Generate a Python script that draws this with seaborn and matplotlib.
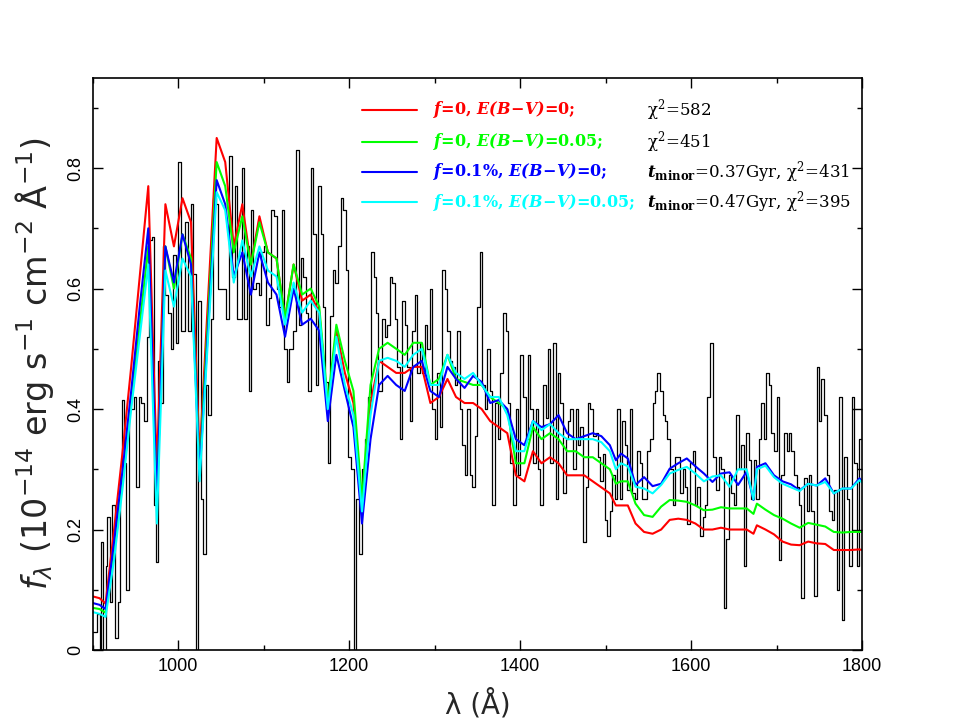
import numpy as np
import pandas as pd
import matplotlib
matplotlib.use("Agg")
import matplotlib.pyplot as plt
from matplotlib.ticker import MultipleLocator
import seaborn as sns

# observed spectrum: bin left edges (A) and flux levels
obs_wave = [900, 905, 908, 910, 912, 915, 917, 920, 923, 926, 929, 932, 934.5, 937, 939.5, 942, 948.5,
            951, 954, 957, 960, 963, 965.5, 969, 972, 973.5, 976.5, 979.5, 982.5, 985, 988, 991, 994, 997,
            1000, 1003, 1006, 1008.5, 1011.5, 1015, 1017.5, 1020.5, 1023.5, 1026.5, 1029.3, 1032, 1035, 1038,
            1041, 1044, 1047, 1050, 1053, 1056, 1059.5, 1063, 1066, 1069, 1072, 1074.5, 1077, 1080, 1082.5,
            1085, 1088, 1091, 1094, 1097, 1100, 1103, 1106, 1109, 1112, 1115, 1118, 1121, 1124, 1127, 1130,
            1134, 1138, 1141, 1143.5, 1146, 1149, 1152, 1155, 1158, 1161, 1163.5, 1166.5, 1169, 1172, 1175,
            1178, 1181, 1184, 1187, 1190, 1193, 1196, 1199, 1202, 1205.5, 1207.5, 1211, 1214.5, 1218, 1222,
            1226, 1229, 1231, 1234, 1238.8, 1241.5, 1244.2, 1247.4, 1250.5, 1253.2, 1256, 1259, 1262.2, 1265,
            1267.6, 1270.8, 1273.5, 1276.6, 1279.3, 1282.5, 1285.2, 1288.3, 1291, 1294.2, 1297.3, 1300, 1302.7,
            1305.8, 1309, 1311.7, 1314.4, 1317.5, 1320.7, 1323.4, 1326.1, 1329.2, 1332.4, 1335.1, 1337.8, 1341,
            1344, 1346.8, 1349.5, 1352.6, 1355.8, 1358.5, 1361.2, 1364.3, 1367.4, 1370.6, 1374.1, 1376.8, 1380,
            1383, 1385.8, 1388.5, 1391.6, 1394.7, 1397.5, 1400.2, 1403.3, 1406.4, 1409.2, 1412, 1415, 1418,
            1421, 1423.6, 1426.7, 1429.8, 1432.6, 1435.3, 1438.4, 1441.5, 1444.2, 1447, 1450, 1453.2, 1456,
            1458.7, 1461.8, 1465, 1467.6, 1470.4, 1473.5, 1476.6, 1479.3, 1482, 1485.2, 1488.3, 1491, 1493.8,
            1497, 1498.8, 1501.6, 1504.7, 1507.8, 1510.6, 1513.3, 1516.5, 1519.6, 1522.4, 1525.1, 1528.2, 1531,
            1534.1, 1537, 1540, 1543, 1546, 1548.6, 1551.8, 1555, 1557.6, 1560.4, 1563.5, 1566.7, 1569.4,
            1572.2, 1575.3, 1578.4, 1581.2, 1584, 1587, 1590.2, 1593, 1595.7, 1598.8, 1602, 1604.7, 1607.5,
            1610.6, 1613.7, 1616.5, 1619.2, 1622.4, 1625.5, 1628.6, 1632.2, 1635, 1638, 1641.2, 1644, 1646.7,
            1649.8, 1653, 1655.7, 1658.4, 1661.6, 1664.7, 1667.5, 1670.2, 1673.3, 1676.5, 1679.2, 1682, 1685.1,
            1688.2, 1691, 1693.7, 1697, 1700, 1702.7, 1705.5, 1708.6, 1711.8, 1714.5, 1717.3, 1720.4, 1723.5,
            1726.3, 1729, 1732.2, 1735.3, 1738, 1740.8, 1744, 1747, 1749.8, 1752.5, 1755.7, 1758.8, 1761.6,
            1764.3, 1767.5, 1770.6, 1773.3, 1776, 1779.2, 1782.4, 1785, 1787.8, 1791, 1794, 1797]
obs_flux = [0.03, 0.06, 0.0, 0.18, 0.0, 0.14, 0.22, 0.08, 0.24, 0.02, 0.08, 0.29, 0.415, 0.31, 0.10, 0.40, 0.42,
            0.27, 0.42, 0.41, 0.38, 0.52, 0.68, 0.685, 0.24, 0.146, 0.48, 0.41, 0.67, 0.59, 0.56, 0.50, 0.655, 0.51,
            0.81, 0.53, 0.53, 0.71, 0.53, 0.74, 0.625, 0.0, 0.58, 0.25, 0.16, 0.44, 0.39, 0.55,
            0.75, 0.74, 0.60, 0.60, 0.60, 0.55, 0.82, 0.62, 0.77, 0.55, 0.55, 0.80, 0.55, 0.67, 0.43,
            0.73, 0.60, 0.61, 0.59, 0.66, 0.67, 0.54, 0.585, 0.73, 0.72, 0.60, 0.57, 0.73, 0.50, 0.445, 0.50,
            0.53, 0.83, 0.54, 0.65, 0.62, 0.56, 0.43, 0.80, 0.69, 0.44, 0.77, 0.69, 0.57, 0.445, 0.31,
            0.555, 0.63, 0.61, 0.67, 0.75, 0.73, 0.63, 0.32, 0.30, 0.0, 0.25, 0.16, 0.30, 0.35, 0.42,
            0.66, 0.62, 0.56, 0.43, 0.55, 0.52, 0.54, 0.62, 0.61, 0.55, 0.47, 0.35, 0.58, 0.54,
            0.47, 0.38, 0.53, 0.59, 0.46, 0.51, 0.46, 0.54, 0.50, 0.60, 0.40, 0.35, 0.46,
            0.37, 0.63, 0.60, 0.53, 0.48, 0.47, 0.44, 0.53, 0.40, 0.34, 0.29, 0.40, 0.29,
            0.27, 0.355, 0.57, 0.66, 0.44, 0.40, 0.50, 0.43, 0.24, 0.41, 0.35, 0.46, 0.56,
            0.53, 0.41, 0.31, 0.24, 0.40, 0.29, 0.49, 0.42, 0.35, 0.49, 0.40, 0.31, 0.40,
            0.30, 0.24, 0.44, 0.385, 0.50, 0.31, 0.51, 0.25, 0.46, 0.41, 0.26, 0.35, 0.38,
            0.40, 0.30, 0.40, 0.34, 0.37, 0.18, 0.27, 0.41, 0.40, 0.355, 0.36, 0.32, 0.28,
            0.325, 0.216, 0.19, 0.23, 0.29, 0.25, 0.40, 0.25, 0.38, 0.34, 0.265, 0.40, 0.26,
            0.25, 0.33, 0.31, 0.25, 0.25, 0.33, 0.35, 0.41, 0.43, 0.46, 0.43, 0.39, 0.38,
            0.35, 0.30, 0.24, 0.32, 0.32, 0.26, 0.30, 0.27, 0.21, 0.31, 0.33, 0.24, 0.27,
            0.19, 0.22, 0.24, 0.42, 0.51, 0.32, 0.265, 0.32, 0.30, 0.07, 0.185, 0.29, 0.26,
            0.24, 0.39, 0.30, 0.34, 0.14, 0.36, 0.315, 0.25, 0.315, 0.25, 0.35, 0.41, 0.35,
            0.46, 0.44, 0.36, 0.33, 0.42, 0.15, 0.29, 0.36, 0.33, 0.36, 0.33, 0.29, 0.27,
            0.24, 0.086, 0.285, 0.23, 0.29, 0.23, 0.09, 0.47, 0.38, 0.45, 0.39, 0.29, 0.23,
            0.215, 0.265, 0.10, 0.42, 0.05, 0.32, 0.25, 0.14, 0.42, 0.31, 0.14, 0.35]

# model spectra
model_wave = [900, 908, 915, 925, 935, 945, 955, 965, 975, 985, 995, 1005, 1015, 1025, 1045, 1055, 1065,
              1075, 1085, 1095, 1105, 1115, 1125, 1135, 1145, 1155, 1165, 1175, 1185, 1195, 1205, 1215,
              1225, 1235, 1245, 1255, 1265, 1275, 1285, 1295, 1305, 1315, 1325, 1335, 1345, 1355, 1365,
              1375, 1385, 1395, 1405, 1415, 1425, 1435, 1445, 1455, 1465, 1475, 1485, 1495, 1505, 1512,
              1518, 1526, 1535, 1545, 1555, 1565, 1575, 1585, 1595, 1605, 1615, 1625, 1635, 1645, 1655,
              1665, 1673, 1677, 1687, 1697, 1707, 1717, 1727, 1737, 1747, 1757, 1767, 1777, 1787, 1797, 1800]
flux_red = [0.089, 0.086, 0.077, 0.20, 0.33, 0.47, 0.62, 0.77, 0.30, 0.74, 0.67, 0.75, 0.71, 0.32, 0.85, 0.81,
            0.67, 0.74, 0.64, 0.72, 0.66, 0.65, 0.55, 0.64, 0.58, 0.59, 0.56, 0.40, 0.53, 0.46, 0.41, 0.24,
            0.41, 0.48, 0.47, 0.46, 0.46, 0.47, 0.47, 0.41, 0.42, 0.45, 0.42, 0.41, 0.41, 0.40, 0.38,
            0.37, 0.36, 0.29, 0.28, 0.33, 0.31, 0.32, 0.31, 0.29, 0.29, 0.29, 0.28, 0.27, 0.26, 0.24,
            0.24, 0.24, 0.21, 0.196, 0.193, 0.20, 0.216, 0.218, 0.216, 0.21, 0.20, 0.20, 0.203, 0.20, 0.20,
            0.20, 0.193, 0.207, 0.20, 0.192, 0.18, 0.175, 0.174, 0.18, 0.177, 0.176, 0.166, 0.166, 0.166, 0.167,
            0.166]
flux_green = [0.07, 0.068, 0.062, 0.16, 0.28, 0.41, 0.54, 0.67, 0.25, 0.67, 0.60, 0.69, 0.65, 0.30, 0.81, 0.77,
              0.66, 0.72, 0.64, 0.71, 0.66, 0.65, 0.55, 0.64, 0.59, 0.60, 0.57, 0.41, 0.54, 0.48, 0.43, 0.25,
              0.44, 0.50, 0.51, 0.50, 0.49, 0.51, 0.51, 0.44, 0.45, 0.49, 0.45, 0.445, 0.44, 0.44, 0.42,
              0.41, 0.40, 0.31, 0.31, 0.37, 0.35, 0.36, 0.35, 0.33, 0.33, 0.32, 0.32, 0.31, 0.30, 0.276,
              0.28, 0.28, 0.243, 0.224, 0.221, 0.238, 0.249, 0.248, 0.246, 0.24, 0.232, 0.233, 0.237, 0.235, 0.235,
              0.235, 0.226, 0.243, 0.233, 0.224, 0.218, 0.21, 0.203, 0.211, 0.208, 0.205, 0.196, 0.195, 0.196,
              0.196, 0.196]
flux_blue = [0.078, 0.075, 0.068, 0.18, 0.30, 0.43, 0.57, 0.70, 0.25, 0.67, 0.61, 0.69, 0.64, 0.29, 0.78, 0.74,
             0.62, 0.66, 0.59, 0.66, 0.61, 0.59, 0.52, 0.60, 0.54, 0.55, 0.53, 0.38, 0.49, 0.43, 0.37, 0.21,
             0.35, 0.44, 0.455, 0.44, 0.43, 0.47, 0.48, 0.43, 0.42, 0.47, 0.45, 0.435, 0.455, 0.445, 0.41,
             0.415, 0.40, 0.35, 0.34, 0.38, 0.37, 0.375, 0.39, 0.36, 0.35, 0.355, 0.36, 0.355, 0.34, 0.315,
             0.326, 0.318, 0.274, 0.287, 0.272, 0.276, 0.301, 0.31, 0.318, 0.305, 0.293, 0.279, 0.293, 0.295, 0.274,
             0.296, 0.249, 0.304, 0.31, 0.29, 0.28, 0.275, 0.265, 0.276, 0.273, 0.285, 0.26, 0.268, 0.268,
             0.285, 0.28]
flux_cyan = [0.063, 0.06, 0.055, 0.15, 0.27, 0.40, 0.52, 0.64, 0.21, 0.63, 0.57, 0.65, 0.62, 0.28, 0.76, 0.73,
             0.61, 0.68, 0.62, 0.67, 0.63, 0.62, 0.54, 0.61, 0.56, 0.58, 0.56, 0.40, 0.52, 0.44, 0.39, 0.23,
             0.39, 0.48, 0.485, 0.48, 0.47, 0.49, 0.50, 0.44, 0.44, 0.49, 0.46, 0.45, 0.46, 0.44, 0.42,
             0.42, 0.39, 0.33, 0.33, 0.38, 0.365, 0.375, 0.36, 0.35, 0.35, 0.35, 0.35, 0.345, 0.33, 0.30,
             0.31, 0.305, 0.271, 0.268, 0.26, 0.274, 0.293, 0.299, 0.304, 0.293, 0.28, 0.288, 0.29, 0.271, 0.30,
             0.30, 0.25, 0.30, 0.306, 0.287, 0.276, 0.27, 0.264, 0.276, 0.273, 0.279, 0.26, 0.268, 0.268,
             0.282, 0.278]

labels = [r"$\mathbfit{f}$=0, $\mathbfit{E(B\!-\!V)}$=0;",
          r"$\mathbfit{f}$=0, $\mathbfit{E(B\!-\!V)}$=0.05;",
          r"$\mathbfit{f}$=0.1%, $\mathbfit{E(B\!-\!V)}$=0;",
          r"$\mathbfit{f}$=0.1%, $\mathbfit{E(B\!-\!V)}$=0.05;"]
notes = [r"$\mathrm{\chi}^2$=582", r"$\mathrm{\chi}^2$=451",
         r"$\mathbfit{t}_{\mathbf{minor}}$=0.37Gyr, $\mathrm{\chi}^2$=431",
         r"$\mathbfit{t}_{\mathbf{minor}}$=0.47Gyr, $\mathrm{\chi}^2$=395"]
colors = ["#ff0000", "#00ff00", "#0000ff", "#00ffff"]

sns.set_style("ticks")
plt.rcParams["font.family"] = ["Liberation Sans", "DejaVu Sans"]
plt.rcParams["xtick.direction"] = "in"
plt.rcParams["ytick.direction"] = "in"

fig = plt.figure(figsize=(9.56, 7.27), dpi=100)
ax = fig.add_axes([0.097, 0.1059, 0.8047, 0.7872])

obs = pd.DataFrame({"wave": obs_wave + [1800], "flux": obs_flux + [obs_flux[-1]]})
sns.lineplot(data=obs, x="wave", y="flux", ax=ax, color="black", lw=0.9,
             drawstyle="steps-post", estimator=None, sort=False)

models = pd.DataFrame({"wave": model_wave, "red": flux_red, "green": flux_green,
                       "blue": flux_blue, "cyan": flux_cyan})
for name, c in zip(["red", "green", "blue", "cyan"], colors):
    sns.lineplot(data=models, x="wave", y=name, ax=ax, color=c, lw=1.5,
                 estimator=None, sort=False)

# legend drawn inside the axes like the original
leg_y = [0.897, 0.844, 0.794, 0.743]
for lab, note, c, yy in zip(labels, notes, colors, leg_y):
    sns.lineplot(x=[1215, 1279], y=[yy, yy], ax=ax, color=c, lw=1.5, estimator=None)
    ax.text(1298, yy, lab, color=c, fontsize=11.5, fontweight="bold", family="DejaVu Serif",
            math_fontfamily="dejavuserif", va="center", ha="left")
    ax.text(1548, yy, note, color="black", fontsize=12, family="DejaVu Serif",
            math_fontfamily="dejavuserif", va="center", ha="left")

ax.set_xlim(900, 1800)
ax.set_ylim(0, 0.95)
ax.xaxis.set_major_locator(MultipleLocator(200))
ax.xaxis.set_minor_locator(MultipleLocator(100))
ax.yaxis.set_major_locator(MultipleLocator(0.2))
ax.yaxis.set_minor_locator(MultipleLocator(0.1))
ax.set_yticks([0, 0.2, 0.4, 0.6, 0.8])
ax.set_yticklabels(["0", "0.2", "0.4", "0.6", "0.8"])
ax.tick_params(which="both", top=True, right=True, width=1.0, colors="black")
ax.tick_params(which="major", length=7, labelsize=13, pad=6)
ax.tick_params(which="minor", length=3.5)
for lab in ax.get_yticklabels():
    lab.set_rotation(90)
    lab.set_va("center")
for sp in ax.spines.values():
    sp.set_linewidth(1.2)
    sp.set_color("black")

ax.set_xlabel("λ (Å)", fontsize=20, family="DejaVu Sans", labelpad=10)
ax.set_ylabel(r"$f_\lambda\ (10^{-14}\ \mathrm{erg\ s^{-1}\ cm^{-2}\ \AA^{-1}})$", fontsize=24,
              math_fontfamily="dejavusans", labelpad=8)

fig.savefig("out.png", dpi=100)
